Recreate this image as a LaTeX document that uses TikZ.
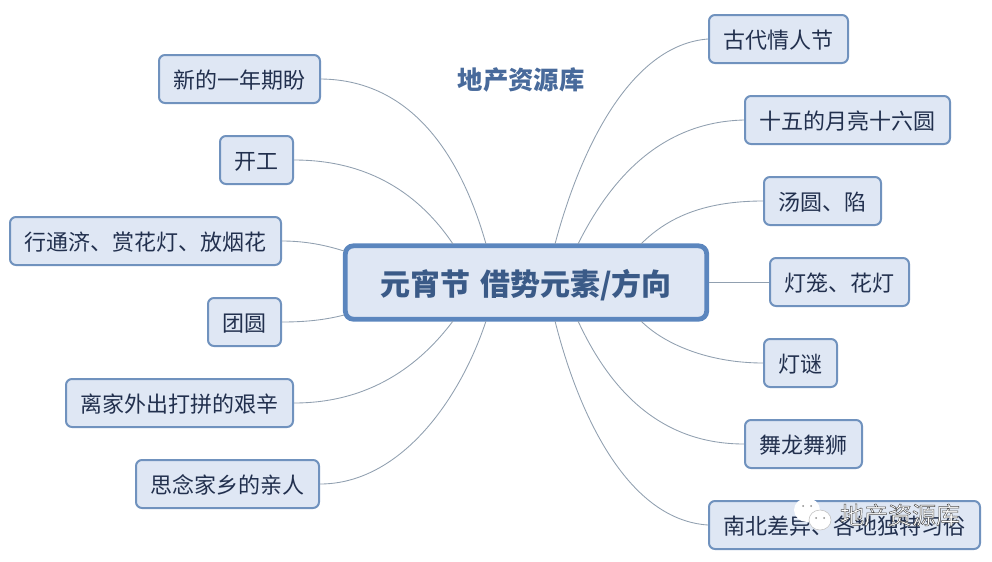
\documentclass[tikz,border=0pt]{standalone}
\usepackage{fontspec}
\setmainfont{Noto Sans CJK SC}
\usetikzlibrary{calc}
\definecolor{BoxFill}{RGB}{223,231,244}
\definecolor{BoxLine}{RGB}{112,146,190}
\definecolor{RootLine}{RGB}{91,134,190}
\definecolor{RootText}{RGB}{58,90,135}
\definecolor{BrandText}{RGB}{72,106,155}
\definecolor{BoxText}{RGB}{34,48,78}
\definecolor{LinkGray}{RGB}{145,160,176}
\tikzset{
  topic/.style={draw=BoxLine,fill=BoxFill,rounded corners=4.5pt,line width=1.5pt,
    inner sep=0pt,minimum height=36pt,text=BoxText,text height=14.1pt,text depth=0pt,
    font=\fontsize{16.5}{18}\selectfont},
  rootbox/.style={draw=RootLine,fill=BoxFill,rounded corners=6pt,line width=3.6pt,
    inner sep=0pt,minimum width=271pt,minimum height=55pt,text=RootText,
    text height=19pt,text depth=0pt,font=\fontsize{22.5}{24}\selectfont\bfseries},
  link/.style={draw=LinkGray,line width=0.65pt},
}
\begin{document}
\begin{tikzpicture}[x=0.75pt,y=-0.75pt]
\useasboundingbox (0,0) rectangle (992,561);
\node[rootbox] (root) at (526,282.5) {元宵节\hspace{0.33em}借势元素/方向};
\node[font=\fontsize{19}{20}\selectfont\bfseries,text=BrandText] (brand) at (521,80) {地产资源库};
% left branch
\foreach \name/\px/\py/\w/\txt in {nianpan/239.5/79/161/新的一年期盼,kaigong/256.5/160/73/开工,
  hanghua/145.5/241/271/行通济、赏花灯、放烟花,tuanyuan/244.5/322/73/团圆,
  lijia/179.5/403/227/离家外出打拼的艰辛,sinian/227.5/484/183/思念家乡的亲人}
  \node[topic,minimum width=\w*0.75pt] (\name) at (\px,\py) {\txt};
% right branch
\foreach \name/\px/\py/\w/\txt in {gudai/778.5/39/139/古代情人节,shiwu/847.5/120/205/十五的月亮十六圆,
  tangyuan/822.5/201/117/汤圆、陷,denglong/839.5/282/139/灯笼、花灯,
  dengmi/800.5/363/73/灯谜,wulong/803.5/444/117/舞龙舞狮,nanbei/844.5/525/271/南北差异、各地独特习俗}
  \node[topic,minimum width=\w*0.75pt] (\name) at (\px,\py) {\txt};
% points on the root box
\foreach \i/\px in {a/486,b/453,c/555,d/578,e/641}{
  \coordinate (top\i) at (\px,244);
  \coordinate (bot\i) at (\px,321);
}
\coordinate (sideup) at (344,251);
\coordinate (sidedn) at (344,315);
\draw[link] (nianpan.east) .. controls (420,80) and (465,170) .. (topa);
\draw[link] (kaigong.east) .. controls (370,160) and (420,195) .. (topb);
\draw[link] (hanghua.east) .. controls (305,241) and (325,245) .. (sideup);
\draw[link] (tuanyuan.east) .. controls (305,322) and (325,320) .. (sidedn);
\draw[link] (lijia.east) .. controls (370,403) and (420,365) .. (botb);
\draw[link] (sinian.east) .. controls (400,484) and (460,400) .. (bota);
\draw[link] (gudai.west) .. controls (630,45) and (580,150) .. (topc);
\draw[link] (shiwu.west) .. controls (660,122) and (610,180) .. (topd);
\draw[link] (tangyuan.west) .. controls (700,201) and (665,220) .. (tope);
\draw[link] (denglong.west) -- (denglong.west-|root.east);
\draw[link] (dengmi.west) .. controls (710,363) and (665,345) .. (bote);
\draw[link] (wulong.west) .. controls (660,444) and (610,390) .. (botd);
\draw[link] (nanbei.west) .. controls (630,520) and (580,420) .. (botc);
% watermark
\fill[white] (807,510) ellipse (13 and 12);
\fill[white,draw=black!25,line width=0.4pt] (820,520) ellipse (11 and 10);
\fill[black!45] (803,506) circle (1) (811,506) circle (1) (816,518) circle (1) (824,518) circle (1);
\node[text=white,font=\fontsize{18}{20}\selectfont] (mark) at (900,515)
  {\special{pdf:code 0.3 0.3 0.3 RG 0.35 w 2 Tr}地产资源库\special{pdf:code 0 Tr}};
\end{tikzpicture}
\end{document}
